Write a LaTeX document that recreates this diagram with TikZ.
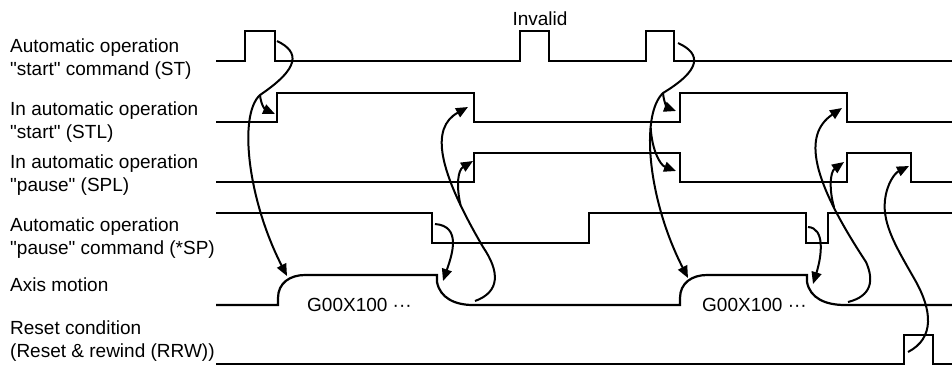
\documentclass[tikz,border=0pt]{standalone}
\usepackage{fontspec}
\setmainfont{Liberation Sans}
\usetikzlibrary{arrows.meta}
\newcommand{\qq}[1]{\textquotedbl#1\textquotedbl}

\begin{document}
\begin{tikzpicture}[x=1pt, y=-1pt,
  signal/.style={line width=2.2pt},
  siglabel/.style={anchor=base west, align=left, inner sep=0pt, font=\fontsize{19}{23}\selectfont},
  note/.style={inner sep=0pt, font=\fontsize{19}{23}\selectfont},
  cause/.style={line width=2pt, -{Triangle[length=12pt,width=10pt]}}
]
  \useasboundingbox (0,0) rectangle (952,365);

  \foreach \name/\yy/\txt in {
      st/75/{Automatic operation\\\qq{start} command (ST)},
      stl/138/{In automatic operation\\\qq{start} (STL)},
      spl/191/{In automatic operation\\\qq{pause} (SPL)},
      sp/254/{Automatic operation\\\qq{pause} command (*SP)},
      axis/291/{Axis motion},
      rrw/357/{Reset condition\\(Reset \& rewind (RRW))}}
    \node[siglabel] (lbl-\name) at (10,\yy) {\txt};

  \node[note, anchor=base] (invalid) at (540,25) {Invalid};
  \node[note, anchor=base west] (cmd-a) at (307,311) {G00X100 ···};
  \node[note, anchor=base west] (cmd-b) at (702,311) {G00X100 ···};

  % timing lines
  \draw[signal] (216,61) -- (245,61) -- (245,31) -- (275,31) -- (275,61) -- (520,61) -- (520,31)
    -- (549,31) -- (549,61) -- (646,61) -- (646,31) -- (674,31) -- (674,61) -- (952,61);
  \draw[signal] (216,122) -- (277,122) -- (277,93) -- (474,93) -- (474,122) -- (680,122)
    -- (680,93) -- (847,93) -- (847,122) -- (952,122);
  \draw[signal] (216,182) -- (474,182) -- (474,153) -- (680,153) -- (680,182) -- (847,182)
    -- (847,153) -- (911,153) -- (911,182) -- (952,182);
  \draw[signal] (216,213) -- (432,213) -- (432,243) -- (589,243) -- (589,213) -- (806,213)
    -- (806,243) -- (828,243) -- (828,213) -- (952,213);
  \draw[signal] (216,305) -- (278,305) -- (278,298) .. controls (278,283) and (290,275) .. (305,275)
    -- (437,275) -- (437,282) .. controls (440,298) and (455,305) .. (473,305) -- (680,305)
    -- (680,298) .. controls (680,283) and (692,275) .. (707,275) -- (807,275) -- (807,282)
    .. controls (810,298) and (825,305) .. (845,305) -- (952,305);
  \draw[signal] (216,364) -- (904,364) -- (904,335) -- (933,335) -- (933,364) -- (952,364);

  \coordinate (st-a) at (277,41);
  \coordinate (st-b) at (678,43);
  \coordinate (fork-a) at (260,95);
  \coordinate (fork-b) at (663,93);
  \coordinate (fork-c) at (650.7,128);
  \coordinate (fork-d) at (460.5,205);
  \coordinate (fork-e) at (834,207);
  \coordinate (stl-on-a) at (275,114);
  \coordinate (stl-on-b) at (676,111);
  \coordinate (stl-off-a) at (468,107);
  \coordinate (stl-off-b) at (842,108);
  \coordinate (spl-on-a) at (473,161);
  \coordinate (spl-on-b) at (844,162);
  \coordinate (spl-off-b) at (676,171);
  \coordinate (spl-off-c) at (909,166);
  \coordinate (sp-a) at (435,224);
  \coordinate (sp-b) at (808,227);
  \coordinate (ax-start-a) at (287,276);
  \coordinate (ax-start-b) at (688,278);
  \coordinate (ax-dec-a) at (443,281);
  \coordinate (ax-dec-b) at (813,284);
  \coordinate (ax-stop-a) at (475,301);
  \coordinate (ax-stop-b) at (848,302);
  \coordinate (rst) at (908,352);

  % first cycle
  \draw[cause] (st-a) .. controls (300,52) and (300,68) .. (fork-a)
    .. controls (238,115) and (248,200) .. (ax-start-a);
  \draw[cause] (fork-a) .. controls (261,106) and (266,110) .. (stl-on-a);
  \draw[cause] (sp-a) .. controls (462,226) and (452,255) .. (ax-dec-a);
  \draw[cause] (ax-stop-a) .. controls (500,292) and (500,272) .. (483,247)
    .. controls (438,170) and (430,128) .. (stl-off-a);
  \draw[cause] (fork-d) .. controls (456,185) and (458,170) .. (spl-on-a);

  % second cycle
  \draw[cause] (st-b) .. controls (702,54) and (701,70) .. (fork-b)
    .. controls (640,115) and (648,200) .. (ax-start-b);
  \draw[cause] (fork-b) .. controls (664,104) and (668,108) .. (stl-on-b);
  \draw[cause] (fork-c) .. controls (652,150) and (660,165) .. (spl-off-b);
  \draw[cause] (sp-b) .. controls (825,228) and (822,255) .. (ax-dec-b);
  \draw[cause] (ax-stop-b) .. controls (872,296) and (874,280) .. (866,262)
    .. controls (812,180) and (802,135) .. (stl-off-b);
  \draw[cause] (fork-e) .. controls (829,190) and (830,172) .. (spl-on-b);

  % reset
  \draw[cause] (rst) .. controls (935,338) and (932,310) .. (915,280)
    .. controls (898,250) and (882,225) .. (885,200)
    .. controls (887,183) and (895,173) .. (spl-off-c);
\end{tikzpicture}
\end{document}
